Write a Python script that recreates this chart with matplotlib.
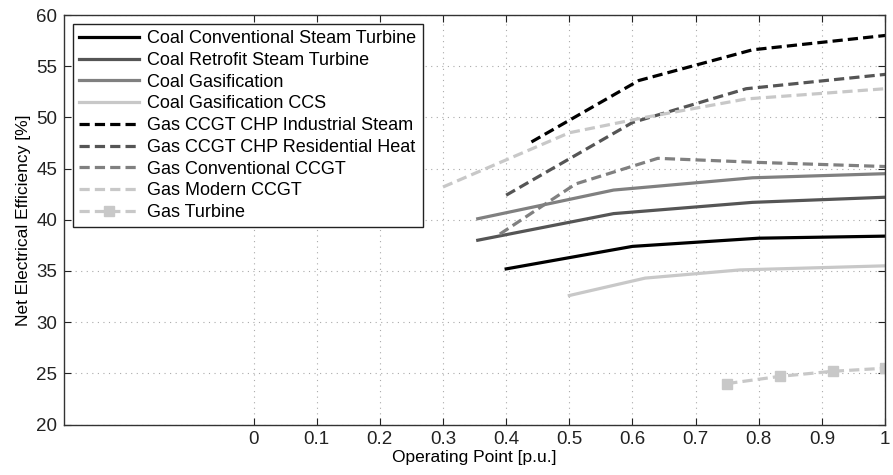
import matplotlib
matplotlib.use('Agg')
import matplotlib.pyplot as plt

plt.rcParams['font.family'] = ['Liberation Sans', 'DejaVu Sans']

# Data
names = ['Coal Conventional Steam Turbine', 'Coal Retrofit Steam Turbine',
         'Coal Gasification', 'Coal Gasification CCS',
         'Gas CCGT CHP Industrial Steam', 'Gas CCGT CHP Residential Heat',
         'Gas Conventional CCGT', 'Gas Modern CCGT', 'Gas Turbine']

coal_conv_x = [0.40, 0.60, 0.80, 1.00]
coal_conv_y = [35.2, 37.4, 38.2, 38.4]
coal_retro_x = [0.355, 0.57, 0.79, 1.00]
coal_retro_y = [38.0, 40.6, 41.7, 42.2]
coal_gas_x = [0.355, 0.57, 0.79, 1.00]
coal_gas_y = [40.1, 42.9, 44.1, 44.5]
coal_ccs_x = [0.50, 0.62, 0.77, 1.00]
coal_ccs_y = [32.6, 34.3, 35.1, 35.5]
chp_ind_x = [0.44, 0.61, 0.79, 1.00]
chp_ind_y = [47.6, 53.6, 56.6, 58.0]
chp_res_x = [0.40, 0.60, 0.78, 1.00]
chp_res_y = [42.4, 49.5, 52.8, 54.2]
ccgt_conv_x = [0.39, 0.51, 0.64, 0.80, 1.00]
ccgt_conv_y = [38.6, 43.5, 46.0, 45.6, 45.2]
ccgt_mod_x = [0.30, 0.50, 0.62, 0.78, 1.00]
ccgt_mod_y = [43.2, 48.5, 50.0, 51.8, 52.8]
gt_x = [0.75, 0.833, 0.917, 1.00]
gt_y = [24.0, 24.7, 25.2, 25.5]

xs = [coal_conv_x, coal_retro_x, coal_gas_x, coal_ccs_x, chp_ind_x,
      chp_res_x, ccgt_conv_x, ccgt_mod_x, gt_x]
ys = [coal_conv_y, coal_retro_y, coal_gas_y, coal_ccs_y, chp_ind_y,
      chp_res_y, ccgt_conv_y, ccgt_mod_y, gt_y]
colors = ['#000000', '#555555', '#808080', '#c8c8c8',
          '#000000', '#555555', '#808080', '#c8c8c8', '#c8c8c8']
styles = ['-', '-', '-', '-', '--', '--', '--', '--', '--']
markers = [None] * 8 + ['s']

fig = plt.figure(figsize=(8.93, 4.75), dpi=100)
ax = fig.add_axes([0.0717, 0.1063, 0.9195, 0.8621])

for x, y, c, ls, m, n in zip(xs, ys, colors, styles, markers, names):
    line, = ax.plot(x, y, color=c, linestyle=ls, linewidth=2.3, marker=m,
                    markersize=7, markeredgecolor=c, label=n)
    if ls == '--':
        line.set_dashes((3.2, 1.6))

ax.set_xlim(-0.3, 1.0)
ax.set_ylim(20, 60)
ax.set_xticks([i / 10 for i in range(11)])
ax.set_xticklabels(['0', '0.1', '0.2', '0.3', '0.4', '0.5', '0.6', '0.7',
                    '0.8', '0.9', '1'])
ax.set_yticks(range(20, 61, 5))
ax.tick_params(direction='in', top=True, right=True, length=5,
               labelsize=13.5, colors='#222222', pad=5)
ax.grid(True, linestyle=(0, (1, 4)), color='#aaaaaa', linewidth=0.8)
for s in ax.spines.values():
    s.set_color('#333333')
    s.set_linewidth(1.0)

ax.set_xlabel('Operating Point [p.u.]', fontsize=12.5, labelpad=1)
ax.set_ylabel('Net Electrical Efficiency [%]', fontsize=12.5, labelpad=4)

leg = ax.legend(loc='upper left', fontsize=13, frameon=True, fancybox=False,
                edgecolor='#222222', framealpha=1, handlelength=3.3,
                labelspacing=0.26, borderpad=0.35, handletextpad=0.45,
                borderaxespad=0.5)
leg.get_frame().set_linewidth(1.0)

fig.savefig('out.png', dpi=100)
